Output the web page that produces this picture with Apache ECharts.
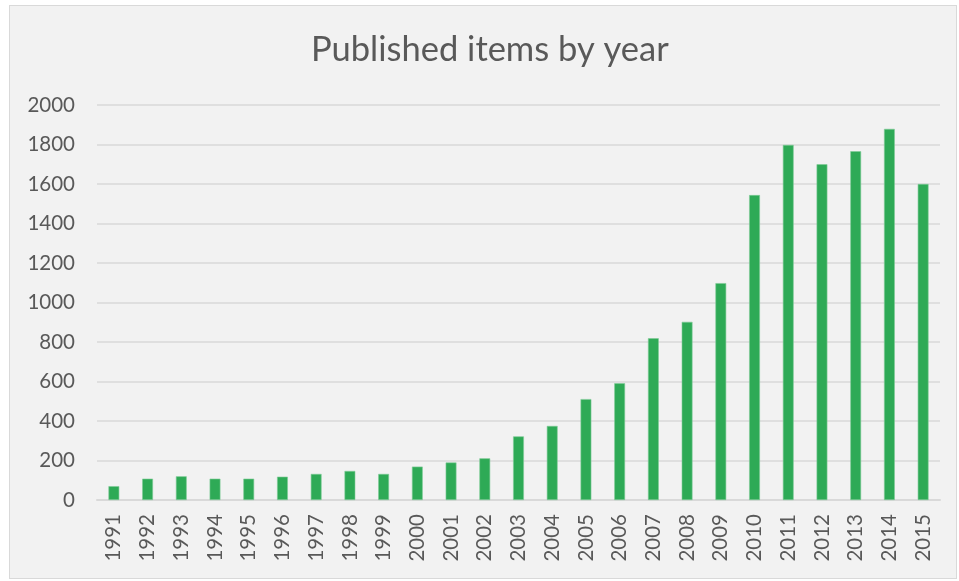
<!DOCTYPE html>
<html>
<head>
<meta charset="utf-8">
<script src="https://cdn.jsdelivr.net/npm/echarts@6/dist/echarts.min.js"></script>
<style>
html,body{margin:0;padding:0;background:#fff;}
#wrap{position:absolute;left:9px;top:5px;width:948px;height:574px;border:1px solid #d9d9d9;background:#f2f2f2;box-sizing:border-box;}
#c{position:absolute;left:0;top:0;width:959px;height:581px;}
</style>
</head>
<body>
<div id="wrap"></div>
<div id="c"></div>
<script>
const years = ['1991','1992','1993','1994','1995','1996','1997','1998','1999','2000','2001','2002','2003','2004','2005','2006','2007','2008','2009','2010','2011','2012','2013','2014','2015'];
const items = [70,108,120,108,108,118,132,147,132,169,190,211,322,375,511,591,819,902,1098,1544,1798,1700,1766,1879,1600];
const yTicks = [0,200,400,600,800,1000,1200,1400,1600,1800,2000];

const chart = echarts.init(document.getElementById('c'));
chart.setOption({
  backgroundColor: 'transparent',
  title: {
    text: 'Published items by year',
    left: 306,
    top: 27,
    textStyle: {fontFamily: 'Lato', fontSize: 34.5, fontWeight: 'normal', color: '#595959'}
  },
  grid: {left: 97, right: 19, top: 105, bottom: 81},
  xAxis: {
    type: 'category',
    data: years,
    axisLine: {lineStyle: {color: '#d9d9d9', width: 2}},
    axisTick: {show: false},
    axisLabel: {rotate: 90, color: '#595959', fontFamily: 'Lato', fontSize: 20.5, margin: 14, interval: 0}
  },
  yAxis: {
    type: 'value',
    min: yTicks[0],
    max: yTicks[yTicks.length - 1],
    interval: 200,
    axisLine: {show: false},
    axisTick: {show: false},
    axisLabel: {color: '#595959', fontFamily: 'Lato', fontSize: 20.5, margin: 22, formatter: function (v) { return String(v); }},
    splitLine: {lineStyle: {color: '#d9d9d9', width: 1.5}}
  },
  series: [{
    type: 'bar',
    data: items,
    barWidth: '32%',
    itemStyle: {color: '#2eaa56', borderColor: '#7fcb97', borderWidth: 0.6}
  }]
});
</script>
</body>
</html>
